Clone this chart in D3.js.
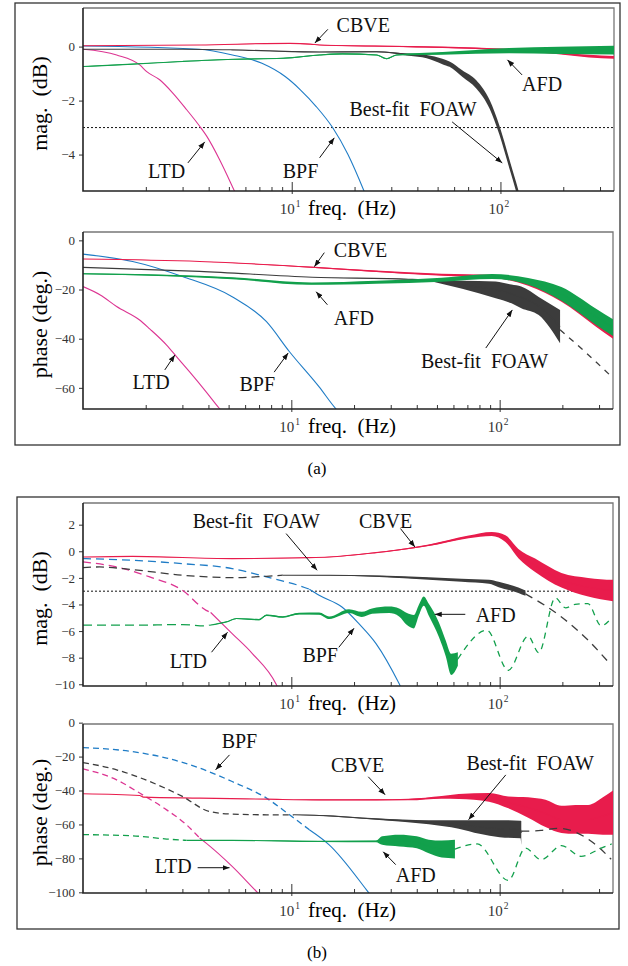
<!DOCTYPE html>
<html>
<head>
<meta charset="utf-8">
<script src="https://cdn.jsdelivr.net/npm/d3@7"></script>
<style>
  body { margin: 0; background: #fff; }
  svg text { font-family: "Liberation Serif", "Times New Roman", serif; }
</style>
</head>
<body>
<svg id="chart" width="628" height="966"></svg>
<script>
// values: [freq (Hz), value, noise spread]
// ---- (a) magnitude, dB ----
const aMagCBVE = [[1, 0.03, 0], [3.6, 0.06, 0], [9.8, 0.12, 0.01], [12.3, 0.09, 0.01], [13.6, 0.06, 0.01], [36.7, 0.0, 0.02], [76, -0.06, 0.03], [158, -0.19, 0.04], [266, -0.35, 0.05], [350, -0.4, 0.05]];
const aMagAFD = [[1, -0.74, 0.01], [1.73, -0.65, 0.01], [3, -0.55, 0.015], [5.2, -0.47, 0.015], [9.1, -0.43, 0.02], [13.6, -0.31, 0.02], [17.5, -0.27, 0.02], [25.5, -0.31, 0.02], [28.5, -0.45, 0.02], [31.8, -0.31, 0.02], [52.8, -0.25, 0.05], [110, -0.15, 0.1], [190, -0.14, 0.13], [350, -0.13, 0.16]];
const aMagFOAW = [[1, -0.1, 0], [3, -0.1, 0], [5.2, -0.12, 0], [13.6, -0.2, 0.01], [25.5, -0.19, 0.02], [36.5, -0.3, 0.04], [44.3, -0.37, 0.06], [52.7, -0.55, 0.1], [57, -0.65, 0.1], [65.6, -1.0, 0.12], [76.6, -1.4, 0.15], [88.9, -2.15, 0.16], [98.9, -3.1, 0.17], [110.4, -4.35, 0.17], [118.9, -5.2, 0.17], [125, -5.8, 0.17]];
const aMagBPF = [[1, 0.02], [3.6, -0.1], [5.2, -0.31], [7.2, -0.62], [9.3, -1.11], [11, -1.6], [13.1, -2.22], [15.7, -3.0], [18.6, -4.0], [22.2, -5.35], [24, -6]];
const aMagLTD = [[1, -0.1], [1.45, -0.31], [1.87, -0.68], [2.02, -0.93], [2.33, -1.23], [2.7, -1.73], [3.14, -2.34], [3.63, -2.96], [3.9, -3.3], [4.52, -4.2], [5.2, -5.19], [5.5, -5.6]];

// ---- (a) phase, deg ----
const aPhCBVE = [[1, -7.6, 0], [3.63, -8.6, 0], [13, -11, 0.2], [25.5, -12.6, 0.3], [52.7, -14, 0.4], [92, -14.6, 0.6], [137, -17.3, 1.2], [198, -22.8, 2.2], [289, -32, 3], [350, -37, 3]];
const aPhAFD = [[1, -13.6, 0.2], [2.52, -14.3, 0.3], [5.2, -15.4, 0.4], [12.5, -17.6, 0.5], [25.5, -17, 0.6], [52.7, -16, 0.8], [92, -14.7, 1], [137, -16.7, 1.4], [198, -21.8, 2.8], [289, -31, 3.3], [350, -35.5, 3.4]];
const aPhFOAW = [[1, -11, 0], [3.63, -12.6, 0], [12.6, -15, 0], [36.5, -15.8, 0.1], [45.7, -16.25, 0.25], [55, -17.2, 0.9], [79.4, -19, 2.5], [95.7, -20.1, 3.4], [114, -21.8, 3.8], [127, -23.2, 4.4], [154, -26.7, 3.7], [195, -35.1, 6.8]];
const aPhFOAWFit = [[195, -36.4], [266, -46.5], [350, -56]];
const aPhBPF = [[1, -5.6], [1.73, -8.6], [3, -14.7], [5.2, -22.9], [7.6, -33.1], [9.8, -45.3], [13.6, -59.6], [16.4, -68.6], [17, -70]];
const aPhLTD = [[1, -18.8], [1.21, -22.2], [1.45, -26.9], [1.87, -32.4], [2.09, -36], [2.52, -42.6], [2.81, -47.3], [3.25, -53.5], [3.9, -61.6], [4.52, -68.4], [4.7, -70]];

// ---- (b) magnitude, dB ----
const bMagCBVE = [[1, -0.43, 0], [1.73, -0.38, 0], [5.2, -0.55, 0], [12.2, -0.48, 0], [15.2, -0.43, 0.02], [25.5, -0.1, 0.03], [31.8, 0.08, 0.04], [45.7, 0.45, 0.06], [71, 1.08, 0.1], [91.6, 1.3, 0.15], [106.6, 0.95, 0.25], [123, -0.17, 0.35], [148, -1.05, 0.5], [198, -2.18, 0.55], [266, -2.7, 0.7], [350, -2.95, 0.8]];
const bMagFOAWFit = [[1, -1.23], [1.2, -1.18], [1.73, -1.38], [3, -1.8], [5.2, -1.98], [7.6, -1.88], [9.1, -1.8]];
const bMagFOAW = [[9.1, -1.8, 0], [15.2, -1.8, 0.02], [26.4, -1.88, 0.05], [45.7, -2.05, 0.1], [65.7, -2.18, 0.12], [88.9, -2.3, 0.15], [98.9, -2.5, 0.2], [123, -2.93, 0.2], [133, -3.15, 0.2]];
const bMagFOAWFit2 = [[133, -3.2], [198, -4.94], [266, -6.69], [340, -8.5]];
const bMagBPFFit = [[1, -0.55], [1.73, -0.68], [3, -0.93], [5.2, -1.3], [7.6, -1.93], [11, -2.6], [12.2, -2.85]];
const bMagBPF = [[12.2, -2.85], [13.6, -3.31], [17.5, -4.19], [21.1, -5.44], [25.5, -6.94], [32.9, -9.95], [34, -10.4]];
const bMagLTDFit = [[1, -0.8], [1.45, -1.18], [2.09, -1.93], [3, -2.93], [3.9, -4.44], [4.1, -4.6]];
const bMagLTD = [[4.1, -4.6], [5.2, -6.19], [6.5, -7.69], [8.46, -10], [8.7, -10.4]];
const bMagAFDFit = [[1, -5.56], [1.73, -5.56], [3, -5.51], [3.9, -5.61], [4.05, -5.56]];
const bMagAFD = [[4.05, -5.56, 0], [4.88, -5.31, 0.03], [5.46, -5.06, 0.03], [7, -5.14, 0.05], [7.6, -4.81, 0.05], [9.1, -4.94, 0.05], [10.9, -4.69, 0.06], [13.6, -4.69, 0.08], [15.2, -5.0, 0.1], [18.9, -4.5, 0.15], [21.8, -4.75, 0.2], [24.4, -4.5, 0.2], [29.5, -4.4, 0.25], [32.9, -4.6, 0.3], [35.9, -5.1, 0.45], [38.7, -5.3, 0.5], [41, -4.4, 0.4], [43.2, -3.75, 0.35], [45.7, -4.4, 0.45], [51.1, -5.9, 0.55], [55.1, -7.3, 0.6], [58.5, -8.5, 0.8], [63, -8.1, 0.5]];
const bMagAFDFit2 = [[63, -8.1], [86.8, -5.94], [110, -8.95], [137, -6.38], [154, -7.63], [185, -3.5], [207, -4.25], [230, -4.0], [265, -3.93], [307, -5.6], [345, -5.0]];

// ---- (b) phase, deg ----
const bPhCBVE = [[1, -41.9, 0], [1.87, -42.9, 0], [1.95, -43.9, 0], [3.63, -44.5, 0], [7.6, -45.1, 0], [13.6, -45.5, 0.2], [25.5, -45.5, 0.3], [36.6, -45.3, 0.5], [52.7, -44, 0.8], [63.6, -43.5, 1.5], [88.9, -44, 2.6], [110, -47, 3.5], [137, -50, 6], [166, -53.5, 8], [198, -57, 8], [231, -57, 8.5], [266, -57, 8.5], [313, -55, 11], [350, -53, 13]];
const bPhFOAWFit = [[1, -23.5], [1.45, -27.8], [2.09, -34.7], [3, -43.5], [4.05, -52.4], [5.2, -53.9], [7.6, -54.3], [10.3, -54.3]];
const bPhFOAW = [[10.3, -54.3, 0], [13.6, -54.7, 0.2], [25.5, -56.8, 0.4], [45.7, -58.7, 1.2], [63.6, -60, 2.5], [80, -61.5, 4], [100, -62.5, 5], [126, -63, 5.2], [127, -65, 7]];
const bPhFOAWFit2 = [[127, -64], [158, -63.5], [191, -62.3], [231, -64.5], [276, -70], [343, -80.5]];
const bPhBPFFit = [[1, -14.7], [1.73, -17.1], [2.52, -20.9], [3.63, -26.8], [5.2, -34.7], [7.6, -44.5], [9.8, -54.3], [12.2, -63.1]];
const bPhBPF = [[12.2, -63.1], [15.2, -72], [22.9, -98.4], [23.6, -100.5]];
const bPhLTDFit = [[1, -27.2], [1.45, -33.7], [1.87, -41.5], [2.52, -51.4], [3.14, -60.2], [3.63, -68]];
const bPhLTD = [[3.63, -68], [3.9, -71], [5.2, -84.7], [6.87, -100], [7, -101]];
const bPhAFDFit = [[1, -66], [1.73, -66.7], [2.52, -68.6], [3.14, -69.4]];
const bPhAFD = [[3.14, -69.4, 0], [5.2, -69.4, 0.1], [13.6, -70, 0.3], [25.5, -70, 0.5], [27.3, -69.5, 2.5], [33, -69.5, 3.5], [40, -70.5, 3.5], [45.7, -73, 4], [52.7, -74.5, 5], [61, -74.5, 5.5]];
const bPhAFDFit2 = [[61, -74.5], [78, -71.5], [110, -93], [133, -74], [158, -80.8], [198, -72.5], [246, -78.8], [307, -74], [345, -71.5]];

// annotations: [text, text f, text v, arrow-from f, v, arrow-to f, v]
const aMagNotes = [
  ["CBVE", 16.4, 0.54, 14.9, 0.64, 12.9, 0.13],
  ["AFD", 127, -1.66, 127, -1.05, 108, -0.49],
  ["Best-fit FOAW", 18.9, -2.57, 58.7, -2.79, 102, -4.31],
  ["LTD", 2.05, -4.86, 3.18, -4.31, 3.83, -3.53],
  ["BPF", 9.06, -4.86, 13.6, -4.12, 16.0, -3.38]
];
const aPhNotes = [
  ["CBVE", 16.0, -6.65, 14.4, -5.0, 12.9, -10.7],
  ["AFD", 16.0, -34.4, 14.9, -26.2, 13.15, -20.9],
  ["Best-fit FOAW", 41.9, -52, 85.8, -43.8, 115, -28.3],
  ["LTD", 1.73, -60.5, 2.47, -52.7, 2.76, -46.6],
  ["BPF", 5.64, -61.3, 8.27, -53.6, 9.66, -45.8]
];
const bMagNotes = [
  ["Best-fit FOAW", 3.36, 1.73, 9.44, 1.33, 13.3, -1.43],
  ["CBVE", 21.1, 1.73, 33.4, 1.71, 39.2, 0.32],
  ["AFD", 76.7, -5.34, 68.4, -4.74, 48.8, -4.74],
  ["LTD", 2.61, -8.8, 4.14, -7.59, 4.94, -6.09],
  ["BPF", 11.3, -8.35, 16.9, -7.22, 20.0, -5.79]
];
const bPhNotes = [
  ["BPF", 4.63, -14.9, 5.05, -19, 4.33, -27.8],
  ["LTD", 2.21, -88.4, 3.55, -85.5, 5.05, -85.5],
  ["CBVE", 15.5, -29, 23.4, -31.9, 28.2, -42.5],
  ["Best-fit FOAW", 69.4, -27.8, 107, -30.8, 70.9, -57.2],
  ["AFD", 31.7, -93.7, 31.7, -83.7, 27.6, -76.1]
];

const freqDomain = [1, 350];
const minorTicks = [2, 3, 4, 5, 6, 7, 8, 9, 20, 30, 40, 50, 60, 70, 80, 90, 200, 300];
const majorTicks = [10, 100];

const red = "#e81c4c", green = "#12a04c", blue = "#1f7cc6", magenta = "#dc3592", dark = "#3c3c3c";
const tickFont = "'Liberation Sans Narrow', 'Liberation Sans', Arial, sans-serif";

const svg = d3.select("#chart");
svg.append("defs").append("marker")
  .attr("id", "arrow")
  .attr("viewBox", "0 0 10 10")
  .attr("refX", 10).attr("refY", 5)
  .attr("markerWidth", 7).attr("markerHeight", 7)
  .attr("orient", "auto")
  .append("path").attr("d", "M0,1.2L10,5L0,8.8Z").attr("fill", "#111");

// outer frames and captions
svg.append("rect").attr("x", 15).attr("y", 3).attr("width", 605).attr("height", 442)
  .attr("fill", "none").attr("stroke", "#333").attr("stroke-width", 1.3);
svg.append("rect").attr("x", 17).attr("y", 497).attr("width", 602).attr("height", 432)
  .attr("fill", "none").attr("stroke", "#333").attr("stroke-width", 1.3);
svg.append("text").attr("x", 317).attr("y", 474).attr("text-anchor", "middle").attr("font-size", 17).text("(a)");
svg.append("text").attr("x", 317).attr("y", 958).attr("text-anchor", "middle").attr("font-size", 17).text("(b)");

function drawPanel(p) {
  const x = d3.scaleLog().domain(freqDomain).range([p.left, p.right]);
  const y = d3.scaleLinear().domain(p.yDomain).range([p.bottom, p.top]);
  const g = svg.append("g");

  svg.select("defs").append("clipPath").attr("id", "clip-" + p.id)
    .append("rect").attr("x", p.left).attr("y", p.top)
    .attr("width", p.right - p.left).attr("height", p.bottom - p.top);

  // top and right frame
  g.append("path")
    .attr("d", `M${p.left},${p.top}H${p.right}V${p.bottom}`)
    .attr("fill", "none").attr("stroke", "#777").attr("stroke-width", 1.3);

  const plot = g.append("g").attr("clip-path", `url(#clip-${p.id})`);

  if (p.cutoff !== undefined) {
    plot.append("line")
      .attr("x1", p.left).attr("x2", p.right)
      .attr("y1", y(p.cutoff)).attr("y2", y(p.cutoff))
      .attr("stroke", "#111").attr("stroke-width", 1).attr("stroke-dasharray", "2,2");
  }

  const line = d3.line().x((d) => x(d[0])).y((d) => y(d[1])).curve(d3.curveMonotoneX);
  const band = d3.area()
    .x((d) => x(d[0]))
    .y0((d) => y(d[1] - (d[2] || 0)))
    .y1((d) => y(d[1] + (d[2] || 0)))
    .curve(d3.curveMonotoneX);

  p.series.forEach((s) => {
    if (s.data[0].length > 2) {
      plot.append("path").datum(s.data).attr("d", band).attr("fill", s.color);
    }
    plot.append("path").datum(s.data)
      .attr("d", line)
      .attr("fill", "none")
      .attr("stroke", s.color)
      .attr("stroke-width", s.dash ? 1.3 : 1.1)
      .attr("stroke-dasharray", s.dash || null);
  });

  // left axis
  const yAxis = g.append("g")
    .attr("transform", `translate(${p.left},0)`)
    .call(d3.axisLeft(y).tickValues(p.yTicks).tickFormat(d3.format("d"))
      .tickSize(4).tickSizeOuter(0).tickPadding(4));
  yAxis.select(".domain").remove();
  yAxis.selectAll("line").attr("stroke", "#333");
  yAxis.selectAll("text")
    .attr("font-family", tickFont)
    .attr("font-size", 13).attr("fill", "#333");

  // bottom axis: minor ticks inside, decades longer
  g.append("g").attr("transform", `translate(0,${p.bottom})`)
    .call(d3.axisBottom(x).tickValues(minorTicks).tickSize(-4).tickSizeOuter(0).tickFormat(""))
    .call((a) => a.select(".domain").remove())
    .selectAll("line").attr("stroke", "#333");
  g.append("g").attr("transform", `translate(0,${p.bottom})`)
    .call(d3.axisBottom(x).tickValues(majorTicks).tickSize(-9).tickSizeOuter(0).tickFormat(""))
    .call((a) => a.select(".domain").remove())
    .selectAll("line").attr("stroke", "#333");
  g.append("g").attr("transform", `translate(0,${p.bottom})`)
    .call(d3.axisBottom(x).tickValues(majorTicks).tickSize(3).tickSizeOuter(0).tickFormat(""))
    .call((a) => a.select(".domain").remove())
    .selectAll("line").attr("stroke", "#333");

  // left and bottom axis lines
  g.append("path")
    .attr("d", `M${p.left},${p.top}V${p.bottom}H${p.right}`)
    .attr("fill", "none").attr("stroke", "#222").attr("stroke-width", 1.6);

  g.selectAll(".dec").data(majorTicks).enter().append("text")
    .attr("x", (d) => x(d) + 3)
    .attr("y", p.bottom + 23)
    .attr("text-anchor", "end")
    .attr("font-family", tickFont)
    .attr("font-size", 15).attr("fill", "#333")
    .text("10");
  g.selectAll(".exp").data(majorTicks).enter().append("text")
    .attr("x", (d) => x(d) + 4)
    .attr("y", p.bottom + 16)
    .attr("font-family", tickFont)
    .attr("font-size", 9.5).attr("fill", "#333")
    .text((d) => Math.round(Math.log10(d)));

  g.append("text")
    .attr("x", 352).attr("y", p.bottom + 24)
    .attr("text-anchor", "middle").attr("font-size", 21)
    .style("white-space", "pre")
    .text("freq.  (Hz)");

  g.append("text")
    .attr("transform", `translate(47,${(p.top + p.bottom) / 2 + 4}) rotate(-90)`)
    .attr("text-anchor", "middle").attr("font-size", 22)
    .style("white-space", "pre")
    .text(p.yLabel);

  // annotations
  p.notes.forEach((n) => {
    g.append("text")
      .attr("x", x(n[1])).attr("y", y(n[2]))
      .attr("font-size", 20).attr("fill", "#111")
      .style("white-space", "pre")
      .text(n[0].replace(" ", "  "));
    g.append("line")
      .attr("x1", x(n[3])).attr("y1", y(n[4]))
      .attr("x2", x(n[5])).attr("y2", y(n[6]))
      .attr("stroke", "#111").attr("stroke-width", 1)
      .attr("marker-end", "url(#arrow)");
  });
}

drawPanel({
  id: "amag", left: 83, right: 614, top: 8, bottom: 191,
  yDomain: [-5.35, 1.43], yTicks: [0, -2, -4], cutoff: -3, yLabel: "mag.  (dB)",
  series: [
    { data: aMagBPF, color: blue },
    { data: aMagLTD, color: magenta },
    { data: aMagCBVE, color: red },
    { data: aMagFOAW, color: dark },
    { data: aMagAFD, color: green }
  ],
  notes: aMagNotes
});

drawPanel({
  id: "aph", left: 83, right: 613, top: 232, bottom: 409,
  yDomain: [-68.6, 3.4], yTicks: [0, -20, -40, -60], yLabel: "phase (deg.)",
  series: [
    { data: aPhBPF, color: blue },
    { data: aPhLTD, color: magenta },
    { data: aPhFOAW, color: dark },
    { data: aPhFOAWFit, color: dark, dash: "6,6" },
    { data: aPhCBVE, color: red },
    { data: aPhAFD, color: green }
  ],
  notes: aPhNotes
});

drawPanel({
  id: "bmag", left: 83, right: 613, top: 503, bottom: 686,
  yDomain: [-10.13, 3.63], yTicks: [2, 0, -2, -4, -6, -8, -10], cutoff: -3, yLabel: "mag.  (dB)",
  series: [
    { data: bMagBPFFit, color: blue, dash: "8,5" },
    { data: bMagBPF, color: blue },
    { data: bMagLTDFit, color: magenta, dash: "8,5" },
    { data: bMagLTD, color: magenta },
    { data: bMagCBVE, color: red },
    { data: bMagFOAWFit, color: dark, dash: "8,5" },
    { data: bMagFOAW, color: dark },
    { data: bMagFOAWFit2, color: dark, dash: "8,6" },
    { data: bMagAFDFit, color: green, dash: "9,5" },
    { data: bMagAFD, color: green },
    { data: bMagAFDFit2, color: green, dash: "6,5" }
  ],
  notes: bMagNotes
});

drawPanel({
  id: "bph", left: 83, right: 613, top: 724, bottom: 893,
  yDomain: [-100.4, -0.8], yTicks: [0, -20, -40, -60, -80, -100], yLabel: "phase (deg.)",
  series: [
    { data: bPhBPFFit, color: blue, dash: "6,4" },
    { data: bPhBPF, color: blue },
    { data: bPhLTDFit, color: magenta, dash: "6,4" },
    { data: bPhLTD, color: magenta },
    { data: bPhCBVE, color: red },
    { data: bPhFOAWFit, color: dark, dash: "6,4" },
    { data: bPhFOAW, color: dark },
    { data: bPhFOAWFit2, color: dark, dash: "8,6" },
    { data: bPhAFDFit, color: green, dash: "6,4" },
    { data: bPhAFD, color: green },
    { data: bPhAFDFit2, color: green, dash: "6,5" }
  ],
  notes: bPhNotes
});
</script>
</body>
</html>
